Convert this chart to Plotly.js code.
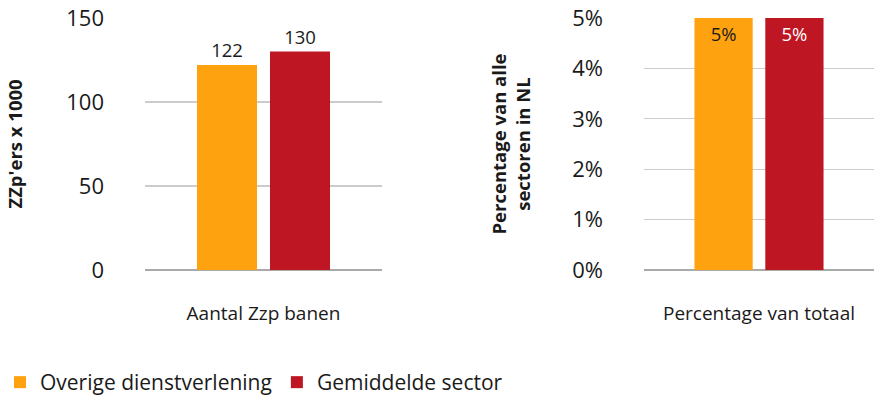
<!DOCTYPE html>
<html>
<head>
<meta charset="utf-8">
<script src="https://cdn.plot.ly/plotly-3.0.1.min.js"></script>
<style>html,body{margin:0;padding:0;background:#fff;}#chart{width:874px;height:403px;}</style>
</head>
<body>
<div id="chart"></div>
<script>
// Data
const seriesNames = ["Overige dienstverlening", "Gemiddelde sector"];
const leftCategory = ["Aantal Zzp banen"];
const rightCategory = ["Percentage van totaal"];
const leftValues = [122, 130];       // ZZp'ers x 1000
const rightValues = [0.05, 0.05];    // share of all sectors
const leftTicks = [0, 50, 100, 150];
const rightTicks = [0, 0.01, 0.02, 0.03, 0.04, 0.05];

const colors = ["#FFA20F", "#BE1622"];
const insideTextColors = ["#1a1a1a", "#ffffff"];
const FONT = "Open Sans, sans-serif";
const TXT = "#1a1a1a";

const traces = [];
seriesNames.forEach((name, i) => {
  traces.push({
    type: "bar", name: name, x: leftCategory, y: [leftValues[i]],
    xaxis: "x", yaxis: "y", legendgroup: name, showlegend: true,
    marker: {color: colors[i]},
    text: [String(leftValues[i])], textposition: "outside", cliponaxis: false,
    textfont: {family: FONT, size: 18.5, color: TXT},
    hoverinfo: "skip"
  });
});
seriesNames.forEach((name, i) => {
  traces.push({
    type: "bar", name: name, x: rightCategory, y: [rightValues[i]],
    xaxis: "x2", yaxis: "y2", legendgroup: name, showlegend: false,
    marker: {color: colors[i]},
    texttemplate: "%{y:.0%}", textposition: "inside", insidetextanchor: "end",
    textangle: 0,
    insidetextfont: {family: FONT, size: 18.5, color: insideTextColors[i]},
    hoverinfo: "skip"
  });
});

const gridColor = "#cccccc";
const layout = {
  width: 874, height: 403,
  margin: {l: 0, r: 0, t: 18, b: 132},
  paper_bgcolor: "#fff", plot_bgcolor: "#fff",
  font: {family: FONT, color: TXT, size: 18},
  barmode: "group", bargap: 0.384, bargroupgap: 0.178,
  showlegend: true,
  legend: {orientation: "h", x: 0, xanchor: "left", y: -0.447, yanchor: "middle",
           font: {family: FONT, size: 21, color: TXT}, traceorder: "normal"},
  xaxis: {domain: [145/874, 382/874], type: "category", showline: false, showgrid: false,
          ticks: "", ticklabelstandoff: 30, tickfont: {size: 19}, zeroline: false},
  yaxis: {range: [0, 150], tickvals: leftTicks, showgrid: true, gridcolor: gridColor, gridwidth: 1.3,
          zeroline: true, zerolinecolor: "#aaaaaa", zerolinewidth: 1.3, showline: false, ticks: "",
          tickfont: {size: 22}, ticklabelstandoff: 40, automargin: "top",
          title: {text: "ZZp'ers x 1000", font: {size: 18.5, weight: "bold", color: TXT}, standoff: 38}},
  xaxis2: {domain: [644/874, 1], type: "category", anchor: "y2", showline: false, showgrid: false,
           ticks: "", ticklabelstandoff: 30, tickfont: {size: 19}, zeroline: false},
  yaxis2: {range: [0, 0.05], tickvals: rightTicks, tickformat: ".0%", anchor: "x2",
           showgrid: true, gridcolor: gridColor, gridwidth: 1.3,
           zeroline: true, zerolinecolor: "#aaaaaa", zerolinewidth: 1.3, showline: false, ticks: "",
           tickfont: {size: 22}, ticklabelstandoff: 40, automargin: "top",
           title: {text: "Percentage van alle<br>sectoren in NL", font: {size: 18.5, weight: "bold", color: TXT}, standoff: 36}}
};

Plotly.newPlot("chart", traces, layout, {displayModeBar: false, staticPlot: true});
</script>
</body>
</html>
